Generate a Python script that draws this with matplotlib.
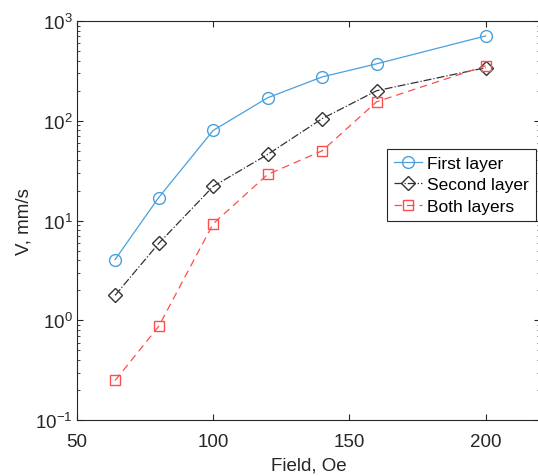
import matplotlib
matplotlib.use("Agg")
import matplotlib.pyplot as plt
from matplotlib.ticker import LogLocator, NullFormatter

plt.rcParams['font.family'] = ['Liberation Sans', 'DejaVu Sans']
plt.rcParams['mathtext.fontset'] = 'custom'
plt.rcParams['mathtext.rm'] = 'Liberation Sans'
plt.rcParams['mathtext.it'] = 'Liberation Sans:italic'

field = [64, 80, 100, 120, 140, 160, 200]
first_layer = [4.07, 17, 80, 170, 275, 372, 708]
second_layer = [1.78, 5.9, 22, 46, 105, 200, 340]
both_layers = [0.25, 0.87, 9.3, 29, 50, 155, 355]
labels = ["First layer", "Second layer", "Both layers"]

fig = plt.figure(figsize=(5.38, 4.77), dpi=100)
ax = fig.add_axes([0.143, 0.117, 0.861, 0.837])

ax.plot(field, first_layer, color='#4aa0dc', linestyle='-', marker='o', markersize=8.5,
        markerfacecolor='none', linewidth=0.9, label=labels[0])
ax.plot(field, second_layer, color='#333333', linestyle='-.', marker='D', markersize=7,
        markerfacecolor='none', linewidth=0.9, label=labels[1])
ax.plot(field, both_layers, color='#ff4d4d', linestyle=(0, (6, 4)), marker='s', markersize=7,
        markerfacecolor='none', linewidth=0.9, label=labels[2])

ax.set_yscale('log')
ax.set_xlim(50, 220)
ax.set_ylim(0.1, 1000)
ax.set_xticks([50, 100, 150, 200])
ax.yaxis.set_major_locator(LogLocator(base=10, numticks=10))
ax.yaxis.set_minor_locator(LogLocator(base=10, subs=range(2, 10), numticks=20))
ax.yaxis.set_minor_formatter(NullFormatter())
ax.tick_params(which='both', direction='in', top=True, right=True, labelsize=13.5, colors='#262626')
ax.tick_params(which='major', length=4)
ax.tick_params(which='minor', length=2)
ax.tick_params(axis='x', pad=9)
ax.tick_params(axis='y', pad=3)
for s in ax.spines.values():
    s.set_color('#262626')
    s.set_linewidth(0.8)

ax.set_xlabel("Field, Oe", fontsize=13.5, color='#262626', labelpad=5)
ax.set_ylabel("V, mm/s", fontsize=13.5, color='#262626', labelpad=2)

leg = ax.legend(loc='upper left', bbox_to_anchor=(0.67, 0.679), borderaxespad=0,
                fontsize=12.5, fancybox=False, edgecolor='#262626', framealpha=1,
                handlelength=1.6, handletextpad=0.3, borderpad=0.4, labelspacing=0.35)
leg.get_frame().set_linewidth(0.8)

fig.savefig("out.png", dpi=100)
